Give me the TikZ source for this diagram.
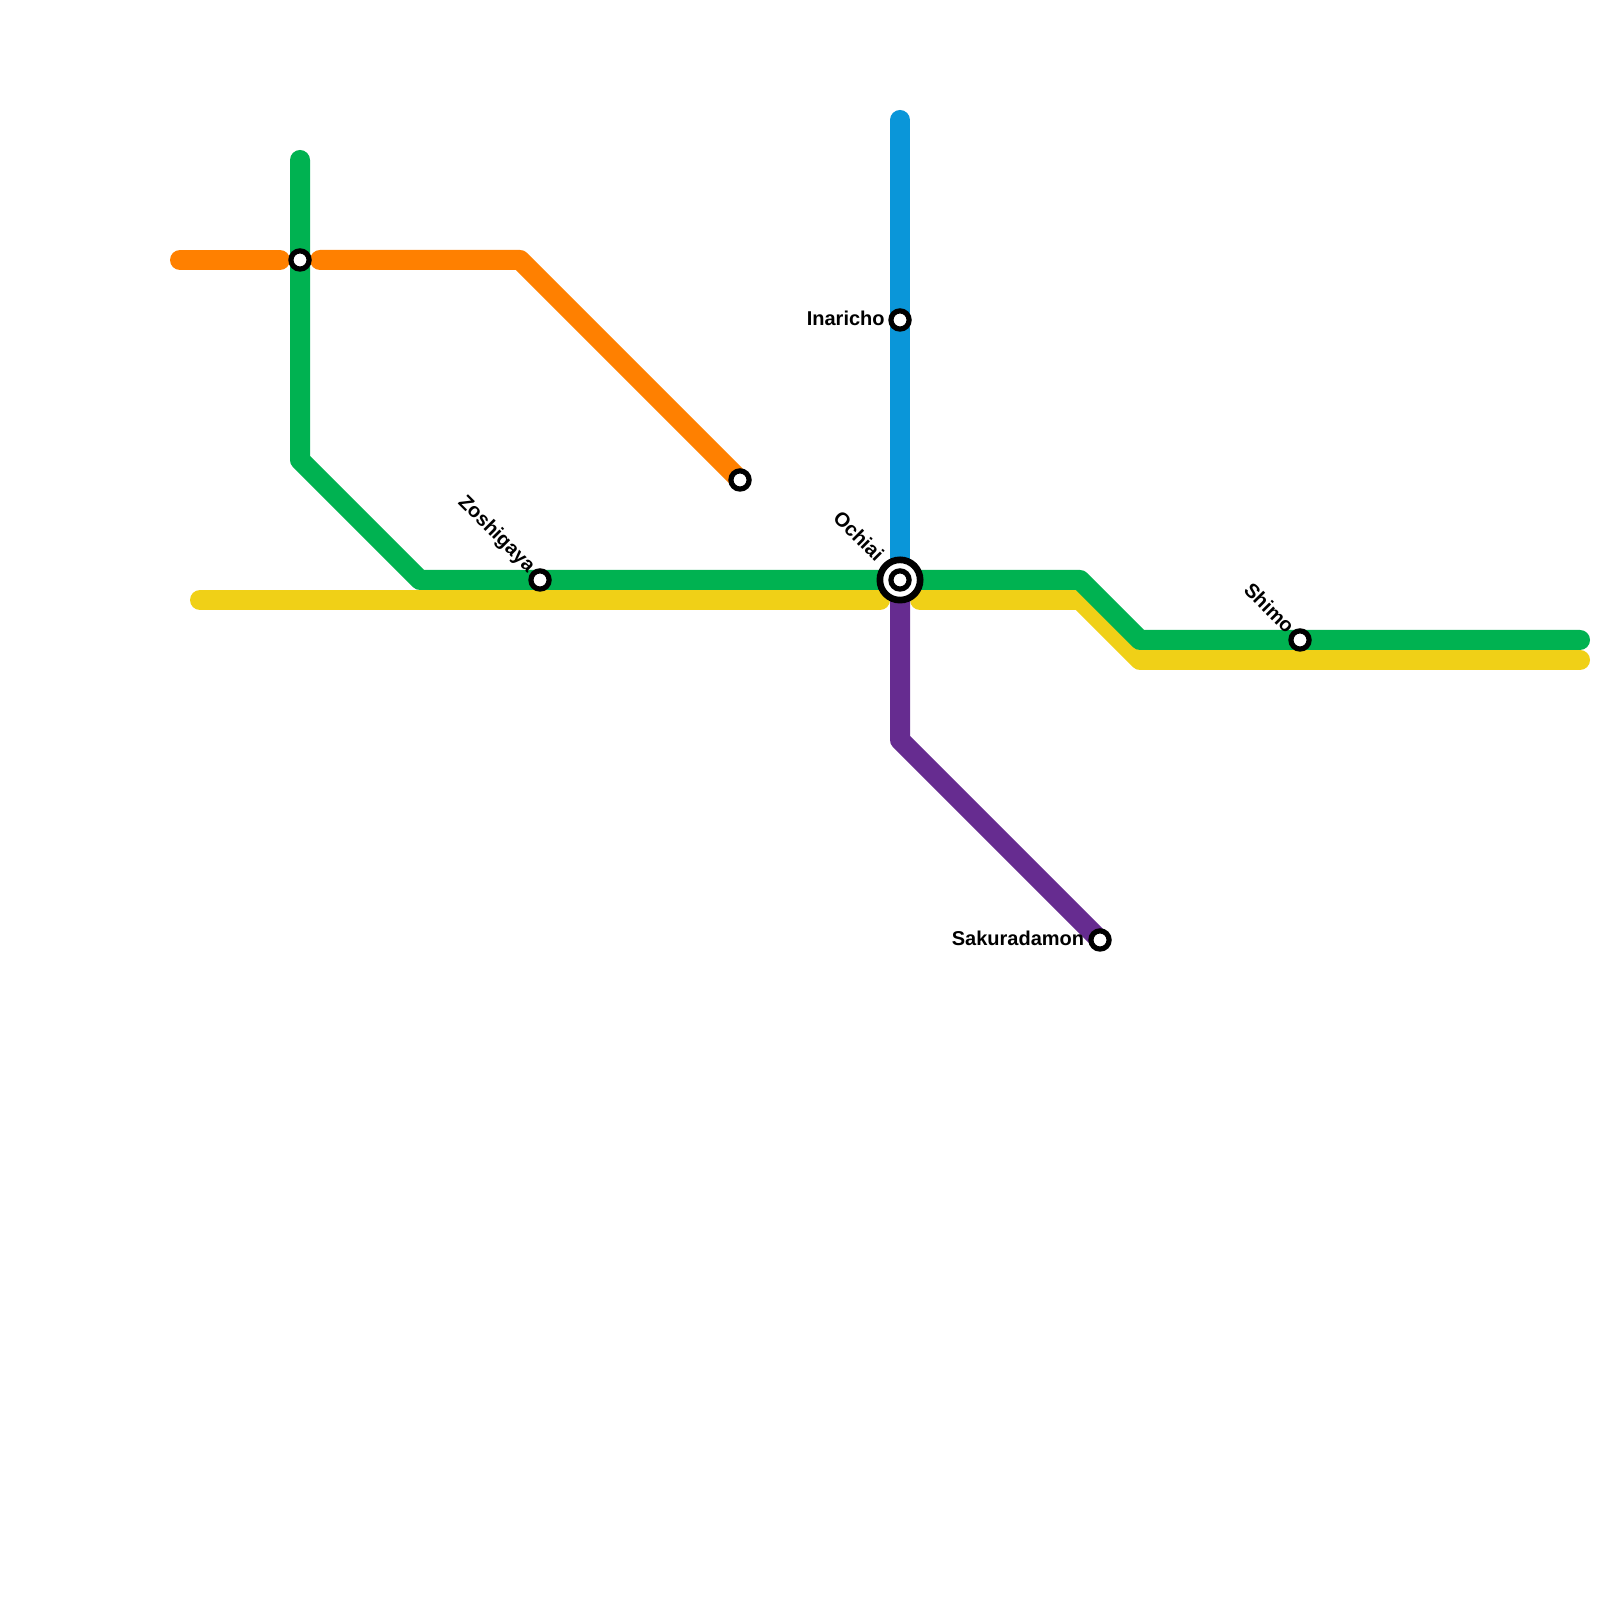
\documentclass[tikz,border=0pt]{standalone}
\usepackage{fontspec}
\setmainfont{Liberation Sans}
\usetikzlibrary{calc,positioning}
\definecolor{LineGreen}{HTML}{00B251}
\definecolor{LineOrange}{HTML}{FF8000}
\definecolor{LineBlue}{HTML}{0A96D9}
\definecolor{LineYellow}{HTML}{F0D017}
\definecolor{LinePurple}{HTML}{662C90}
\tikzset{
  route/.style={line width=5.69pt,line cap=round,line join=round},
  halt/.style={circle,draw=black,fill=white,line width=1.48pt,minimum size=0.182cm,inner sep=0pt},
  hub/.style={circle,draw=black,fill=white,line width=1.9pt,minimum size=0.403cm,inner sep=0pt},
  stopname/.style={font=\fontsize{5.69}{6.5}\selectfont\bfseries,inner sep=0pt}
}
\begin{document}
\begin{tikzpicture}
  \useasboundingbox (0,0) rectangle (16,16);
  % bends and line ends
  \coordinate (greenTop) at (3,14.4);
  \coordinate (greenBendA) at (3,11.4);
  \coordinate (greenBendB) at (4.2,10.2);
  \coordinate (greenBendC) at (10.8,10.2);
  \coordinate (greenBendD) at (11.4,9.6);
  \coordinate (greenEnd) at (15.8,9.6);
  \coordinate (yellowStart) at (2,10);
  \coordinate (yellowStop) at (8.8,10);
  \coordinate (yellowResume) at (9.2,10);
  \coordinate (yellowBendA) at (10.8,10);
  \coordinate (yellowBendB) at (11.4,9.4);
  \coordinate (yellowEnd) at (15.8,9.4);
  \coordinate (orangeStart) at (1.8,13.4);
  \coordinate (orangeStop) at (2.8,13.4);
  \coordinate (orangeResume) at (3.2,13.4);
  \coordinate (orangeBend) at (5.2,13.4);
  \coordinate (blueTop) at (9,14.8);
  \coordinate (purpleTop) at (9,10);
  \coordinate (purpleBend) at (9,8.6);
  % stations
  \coordinate (ochiaiPos) at (9,10.2);
  \coordinate (westPos) at (3,13.4);
  \coordinate (terminusPos) at (7.4,11.2);
  \coordinate (zoshigayaPos) at (5.4,10.2);
  \coordinate (inarichoPos) at (9,12.8);
  \coordinate (sakuradamonPos) at (11,6.6);
  \coordinate (shimoPos) at (13,9.6);
  % lines
  \draw[route,LineYellow] (yellowStart) -- (yellowStop);
  \draw[route,LineYellow] (yellowResume) -- (yellowBendA) -- (yellowBendB) -- (yellowEnd);
  \draw[route,LineBlue] (blueTop) -- (ochiaiPos);
  \draw[route,LinePurple] (purpleTop) -- (purpleBend) -- (sakuradamonPos);
  \draw[route,LineGreen] (greenTop) -- (greenBendA) -- (greenBendB) -- (greenBendC) -- (greenBendD) -- (greenEnd);
  \draw[route,LineOrange] (orangeStart) -- (orangeStop);
  \draw[route,LineOrange] (orangeResume) -- (orangeBend) -- (terminusPos);
  % markers
  \node[hub] (ochiaiRing) at (ochiaiPos) {};
  \node[halt] (ochiai) at (ochiaiPos) {};
  \node[halt] (west) at (westPos) {};
  \node[halt] (terminus) at (terminusPos) {};
  \node[halt] (zoshigaya) at (zoshigayaPos) {};
  \node[halt] (inaricho) at (inarichoPos) {};
  \node[halt] (sakuradamon) at (sakuradamonPos) {};
  \node[halt] (shimo) at (shimoPos) {};
  % names
  \node[stopname,left=0.03cm of inaricho,yshift=0.02cm] (inarichoName) {Inaricho};
  \node[stopname,left=0.035cm of sakuradamon,yshift=0.02cm] (sakuradamonName) {Sakuradamon};
  \node[stopname,rotate=-45,anchor=east] (zoshigayaName) at ($(zoshigaya)+(-0.085,0.1)$) {Zoshigaya};
  \node[stopname,rotate=-45,anchor=east] (ochiaiName) at ($(ochiai)+(-0.19,0.22)$) {Ochiai};
  \node[stopname,rotate=-45,anchor=east] (shimoName) at ($(shimo)+(-0.085,0.1)$) {Shimo};
\end{tikzpicture}
\end{document}
